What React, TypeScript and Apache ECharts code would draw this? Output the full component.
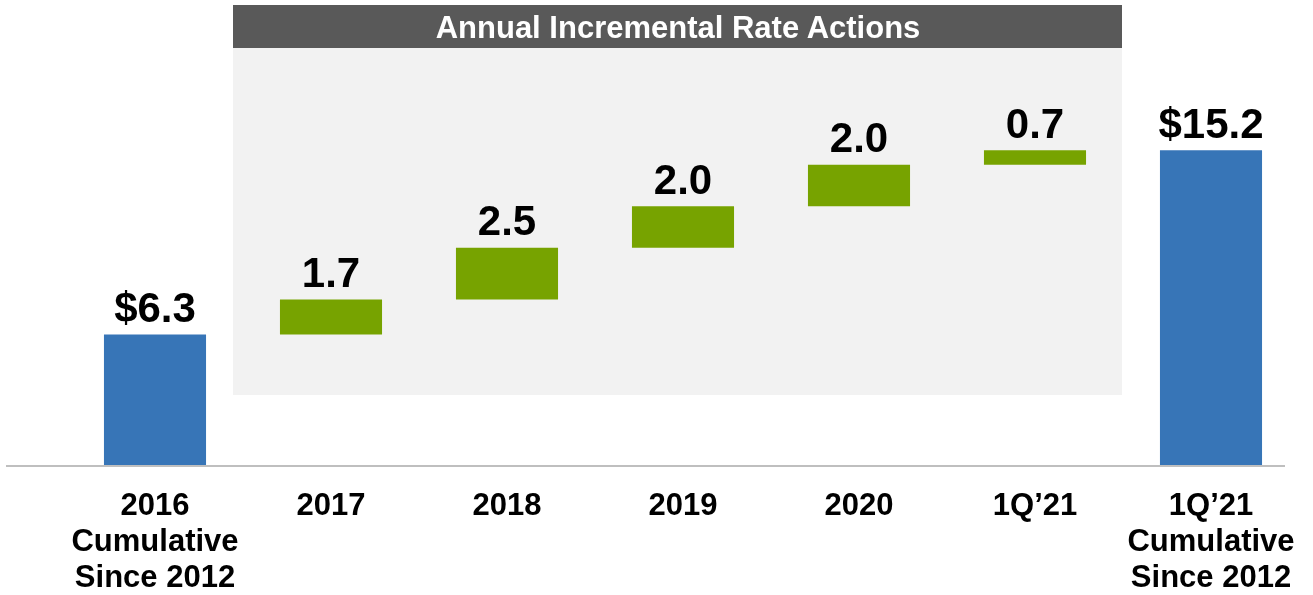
import React, { useEffect, useRef } from "react";
import * as echarts from "echarts";

const categories = [
  "2016\nCumulative\nSince 2012",
  "2017",
  "2018",
  "2019",
  "2020",
  "1Q’21",
  "1Q’21\nCumulative\nSince 2012",
];
const startTotal = 6.3;
const increments = [1.7, 2.5, 2.0, 2.0, 0.7];
const endTotal = 15.2;
const titleText = "Annual Incremental Rate Actions";

const BLUE = "#3775B7";
const GREEN = "#77A300";
const FONT = "Arial, 'Liberation Sans', sans-serif";

export default function App() {
  const ref = useRef<HTMLDivElement>(null);
  useEffect(() => {
    if (!ref.current) return;
    const chart = echarts.init(ref.current, null, { renderer: "svg" });

    const base: any[] = [];
    const vals: any[] = [];
    base.push(0);
    vals.push({ value: startTotal, itemStyle: { color: BLUE }, label: { formatter: "$" + startTotal.toFixed(1) } });
    let cum = startTotal;
    increments.forEach((v) => {
      base.push(cum);
      vals.push({ value: v, itemStyle: { color: GREEN }, label: { formatter: v.toFixed(1) } });
      cum += v;
    });
    base.push(0);
    vals.push({ value: endTotal, itemStyle: { color: BLUE }, label: { formatter: "$" + endTotal.toFixed(1) } });

    chart.setOption({
      animation: false,
      grid: { left: 67, right: 14, top: 51, bottom: 130, containLabel: false, outerBoundsMode: "none" },
      graphic: [
        { type: "rect", z: -10, shape: { x: 233, y: 8, width: 889, height: 387 }, style: { fill: "#F2F2F2" } },
        { type: "rect", z: -9, shape: { x: 233, y: 5, width: 889, height: 43 }, style: { fill: "#595959" } },
        {
          type: "text",
          z: -8,
          x: 678,
          y: 27,
          style: {
            text: titleText,
            fill: "#FFFFFF",
            font: "bold 31px " + FONT,
            align: "center",
            verticalAlign: "middle",
          },
        },
        { type: "line", z: 5, shape: { x1: 6, y1: 466, x2: 1285, y2: 466 }, style: { stroke: "#BFBFBF", lineWidth: 2 } },
      ],
      xAxis: {
        type: "category",
        data: categories,
        axisLine: { show: false },
        axisTick: { show: false },
        axisLabel: {
          color: "#000",
          fontFamily: FONT,
          fontWeight: "bold",
          fontSize: 31,
          lineHeight: 36,
          margin: 21,
          interval: 0,
        },
      },
      yAxis: { type: "value", min: 0, max: 20, show: false, splitLine: { show: false } },
      series: [
        {
          type: "bar",
          stack: "w",
          data: base,
          itemStyle: { color: "transparent" },
          barWidth: "58%",
          silent: true,
        },
        {
          type: "bar",
          stack: "w",
          data: vals,
          barWidth: "58%",
          label: {
            show: true,
            position: "top",
            distance: 6,
            color: "#000",
            fontFamily: FONT,
            fontWeight: "bold",
            fontSize: 42,
          },
        },
      ],
    });
    return () => chart.dispose();
  }, []);
  return <div ref={ref} style={{ position: "fixed", left: 0, top: 0, width: 1313, height: 595 }} />;
}
